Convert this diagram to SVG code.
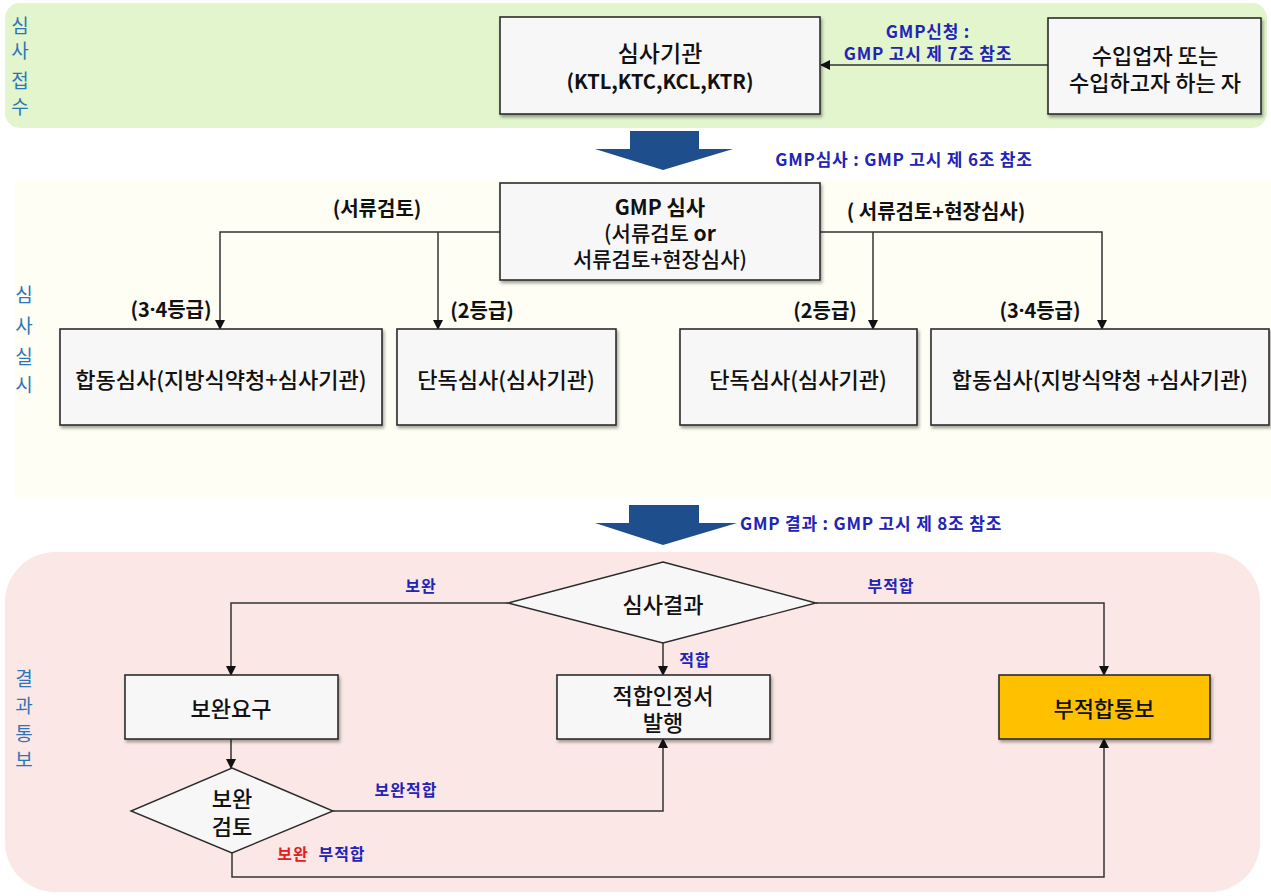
<svg xmlns="http://www.w3.org/2000/svg" width="1271" height="896" viewBox="0 0 1271 896">
<defs>
<marker id="ah" markerWidth="10" markerHeight="10" refX="9" refY="5" orient="auto" markerUnits="userSpaceOnUse">
<path d="M0,0 L10,5 L0,10 z" fill="#111"/>
</marker>
<filter id="sh" x="-5%" y="-5%" width="110%" height="120%">
<feDropShadow dx="1.5" dy="2.5" stdDeviation="1.5" flood-color="#000" flood-opacity="0.35"/>
</filter>
<style>
text{font-family:"Noto Sans CJK KR","Noto Sans",sans-serif;}
.box{fill:#f7f7f7;stroke:#2b2b2b;stroke-width:1.6;filter:url(#sh);}
.dia{fill:#f7f7f7;stroke:#2b2b2b;stroke-width:1.4;}
.t{font-size:22px;font-weight:500;fill:#111;text-anchor:middle;dominant-baseline:central;}
.tb{font-size:21px;font-weight:700;fill:#111;text-anchor:middle;dominant-baseline:central;}
.lb{font-size:20px;font-weight:700;fill:#111;text-anchor:middle;dominant-baseline:central;}
.bl{font-size:17px;font-weight:700;fill:#2323b5;text-anchor:middle;dominant-baseline:central;letter-spacing:0.8px;}
.bs{font-size:16px;font-weight:700;fill:#2323b5;text-anchor:middle;dominant-baseline:central;letter-spacing:1px;}
.ln{font-size:19px;fill:#2e75b6;text-anchor:middle;dominant-baseline:central;}
.dot{font-family:"Noto Sans",sans-serif;}
.ca{fill:none;stroke:#333;stroke-width:1.5;marker-end:url(#ah);}
.big{fill:#1f4e8c;}
</style>
</defs>
<rect width="1271" height="896" fill="#ffffff"/>
<g id="lanes">
<rect x="5" y="3" width="1262" height="125" rx="15" fill="#e2f5cd"/>
<rect x="15" y="180" width="1256" height="318" fill="#fefef5"/>
<rect x="5" y="552" width="1255" height="340" rx="50" fill="#fbe8e6"/>
<text class="ln" x="20" y="24">심</text>
<text class="ln" x="20" y="49">사</text>
<text class="ln" x="20" y="79">접</text>
<text class="ln" x="20" y="105">수</text>
<text class="ln" x="24" y="293">심</text>
<text class="ln" x="24" y="324">사</text>
<text class="ln" x="24" y="355">실</text>
<text class="ln" x="24" y="383">시</text>
<text class="ln" x="24" y="677">결</text>
<text class="ln" x="24" y="704">과</text>
<text class="ln" x="24" y="732">통</text>
<text class="ln" x="24" y="758">보</text>
</g>
<g id="bigarrows">
<polygon class="big" points="630,131 699,131 699,149 733,149 663,170 595,149 630,149"/>
<polygon class="big" points="629,505 699,505 699,523 737,523 663,545 595,523 629,523"/>
<text class="bl" x="904" y="158">GMP심사 : GMP 고시 제 6조 참조</text>
<text class="bl" x="871" y="522">GMP 결과 : GMP 고시 제 8조 참조</text>
</g>
<g id="connectors">
<line class="ca" x1="1048" y1="65" x2="821" y2="65"/>
<text class="bl" x="928" y="30">GMP신청 :</text>
<text class="bl" x="928" y="52">GMP 고시 제 7조 참조</text>
<polyline class="ca" points="500,232 220,232 220,329"/>
<line class="ca" x1="438" y1="232" x2="438" y2="329"/>
<polyline class="ca" points="820,232 1102,232 1102,329"/>
<line class="ca" x1="873" y1="232" x2="873" y2="329"/>
<text class="lb" x="377" y="207">(서류검토)</text>
<text class="lb" x="936" y="210">( 서류검토+현장심사)</text>
<text class="lb" x="171" y="308">(3<tspan class="dot">·</tspan>4등급)</text>
<text class="lb" x="482" y="309">(2등급)</text>
<text class="lb" x="825" y="309">(2등급)</text>
<text class="lb" x="1040" y="309">(3<tspan class="dot">·</tspan>4등급)</text>
<polyline class="ca" points="508,603 231,603 231,675"/>
<polyline class="ca" points="816,603 1104,603 1104,675"/>
<line class="ca" x1="663" y1="643" x2="663" y2="675"/>
<line class="ca" x1="231" y1="739" x2="231" y2="768"/>
<polyline class="ca" points="333,811 663,811 663,739"/>
<polyline class="ca" points="232,853 232,877 1104,877 1104,739"/>
<text class="bs" x="421" y="585">보완</text>
<text class="bs" x="891" y="585">부적합</text>
<text class="bs" x="695" y="659">적합</text>
<text class="bs" x="406" y="789">보완적합</text>
<text class="bs" x="293" y="853" style="fill:#e0201e">보완</text>
<text class="bs" x="342" y="853">부적합</text>
</g>
<g id="n-agency">
<rect class="box" x="500" y="17" width="320" height="97"/>
<text class="t" x="660" y="52" style="font-size:23px">심사기관</text>
<text class="tb" x="660" y="80" style="font-size:20px">(KTL,KTC,KCL,KTR)</text>
</g>
<g id="n-importer">
<rect class="box" x="1048" y="18" width="213" height="96"/>
<text class="t" x="1155" y="54">수입업자 또는</text>
<text class="t" x="1155" y="81">수입하고자 하는 자</text>
</g>
<g id="n-gmp">
<rect class="box" x="500" y="183" width="320" height="97"/>
<text class="tb" x="660" y="206">GMP 심사</text>
<text class="t" x="660" y="232" style="font-size:21px">(서류검토 <tspan font-weight="700">or</tspan></text>
<text class="t" x="660" y="258" style="font-size:21px">서류검토+현장심사)</text>
</g>
<g id="n-joint1">
<rect class="box" x="60" y="329" width="322" height="96"/>
<text class="t" x="221" y="378">합동심사(지방식약청+심사기관)</text>
</g>
<g id="n-single1">
<rect class="box" x="397" y="329" width="219" height="96"/>
<text class="t" x="506" y="378">단독심사(심사기관)</text>
</g>
<g id="n-single2">
<rect class="box" x="680" y="329" width="237" height="96"/>
<text class="t" x="798" y="378">단독심사(심사기관)</text>
</g>
<g id="n-joint2">
<rect class="box" x="931" y="329" width="338" height="96"/>
<text class="t" x="1100" y="378">합동심사(지방식약청 +심사기관)</text>
</g>
<g id="n-result">
<polygon class="dia" points="663,562 816,603 663,643 508,603"/>
<text class="t" x="663" y="603">심사결과</text>
</g>
<g id="n-supp">
<rect class="box" x="125" y="675" width="213" height="64"/>
<text class="t" x="231" y="707">보완요구</text>
</g>
<g id="n-cert">
<rect class="box" x="557" y="675" width="213" height="64"/>
<text class="t" x="663" y="694">적합인정서</text>
<text class="t" x="663" y="721">발행</text>
</g>
<g id="n-fail">
<rect class="box" x="999" y="675" width="211" height="64" style="fill:#ffc000"/>
<text class="t" x="1104" y="707">부적합통보</text>
</g>
<g id="n-review">
<polygon class="dia" points="232,768 333,811 232,853 131,811"/>
<text class="t" x="232" y="797">보완</text>
<text class="t" x="232" y="825">검토</text>
</g>
</svg>
